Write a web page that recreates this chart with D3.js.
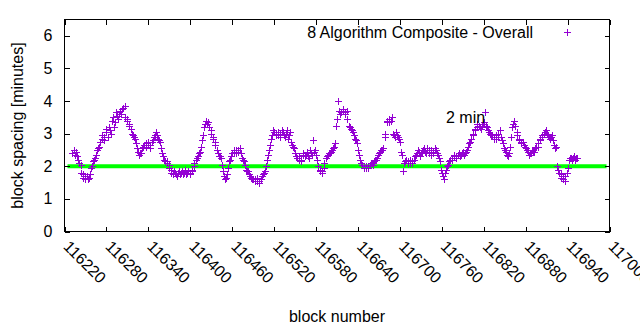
<!DOCTYPE html>
<html>
<head>
<meta charset="utf-8">
<script src="https://cdn.jsdelivr.net/npm/d3@7"></script>
<style>
  body { margin: 0; background: #fff; }
  text { font-family: "Liberation Sans", Arial, sans-serif; font-size: 16px; fill: #000; }
</style>
</head>
<body>
<div id="chart"></div>
<script>
// block numbers and the spacing (minutes)
const blocks = [
  116231, 116233, 116235, 116237, 116240, 116243, 116246, 116249, 116252, 116255, 116258, 116261,
  116264, 116267, 116270, 116273, 116276, 116279, 116282, 116285, 116288, 116291, 116294, 116297,
  116300, 116303, 116306, 116309, 116312, 116315, 116318, 116321, 116324, 116327, 116330, 116333,
  116336, 116339, 116342, 116345, 116348, 116351, 116354, 116357, 116360, 116363, 116366, 116369,
  116372, 116375, 116378, 116381, 116384, 116387, 116390, 116393, 116396, 116399, 116402, 116405,
  116408, 116411, 116414, 116417, 116420, 116423, 116426, 116429, 116432, 116435, 116438, 116441,
  116444, 116447, 116450, 116453, 116456, 116459, 116462, 116465, 116468, 116471, 116474, 116477,
  116480, 116483, 116486, 116489, 116492, 116495, 116498, 116501, 116504, 116507, 116510, 116513,
  116516, 116519, 116522, 116525, 116528, 116531, 116534, 116537, 116540, 116543, 116546, 116549,
  116552, 116555, 116558, 116561, 116564, 116567, 116570, 116573, 116576, 116579, 116582, 116585,
  116588, 116591, 116594, 116597, 116600, 116603, 116606, 116609, 116612, 116615, 116618, 116621,
  116624, 116627, 116630, 116633, 116636, 116639, 116642, 116645, 116648, 116651, 116654, 116657,
  116660, 116663, 116666, 116669, 116672, 116675, 116678, 116681, 116684, 116687, 116690, 116693,
  116696, 116699, 116702, 116705, 116708, 116711, 116714, 116717, 116720, 116723, 116726, 116729,
  116732, 116735, 116738, 116741, 116744, 116747, 116750, 116753, 116756, 116759, 116762, 116765,
  116768, 116771, 116774, 116777, 116780, 116783, 116786, 116789, 116792, 116795, 116798, 116801,
  116804, 116807, 116810, 116813, 116816, 116819, 116822, 116825, 116828, 116831, 116834, 116837,
  116840, 116843, 116846, 116849, 116852, 116855, 116858, 116861, 116864, 116867, 116870, 116873,
  116876, 116879, 116882, 116885, 116888, 116891, 116894, 116897, 116900, 116903, 116906, 116909,
  116912, 116915, 116918, 116921, 116924, 116927, 116930, 116933, 116936, 116939, 116942, 116945,
  116948, 116951, 116954
];
const spacing = [
  2.4, 2.5, 2.35, 2.45, 2.2, 2.05, 1.75, 1.6, 1.7, 1.65, 1.95, 2.15,
  2.25, 2.5, 2.6, 2.85, 2.8, 3.15, 2.9, 3.1, 3.4, 3.2, 3.65, 3.45,
  3.7, 3.75, 3.85, 3.45, 3.25, 3.15, 2.95, 2.85, 2.55, 2.35, 2.4, 2.6,
  2.7, 2.65, 2.55, 2.75, 2.9, 3.05, 2.85, 2.75, 2.4, 2.2, 2.15, 2.05,
  1.9, 1.75, 1.8, 1.7, 1.85, 1.8, 1.75, 1.9, 1.8, 1.75, 1.85, 2.0,
  2.2, 2.3, 2.45, 2.8, 3.2, 3.4, 3.35, 3.1, 2.9, 2.75, 2.5, 2.3,
  2.25, 1.85, 1.6, 1.75, 2.15, 2.3, 2.45, 2.5, 2.45, 2.55, 2.25, 2.15,
  1.9, 1.85, 1.7, 1.6, 1.55, 1.65, 1.5, 1.6, 1.75, 1.85, 2.2, 2.5,
  2.85, 3.1, 2.95, 3.05, 2.9, 3.1, 2.95, 3.0, 2.85, 3.05, 2.65, 2.55,
  2.3, 2.2, 2.15, 2.35, 2.3, 2.45, 2.25, 2.4, 2.8, 2.5, 2.2, 1.85,
  1.8, 1.95, 2.25, 2.35, 2.4, 2.5, 2.6, 3.25, 4.0, 3.6, 3.7, 3.65,
  3.7, 3.25, 3.15, 3.05, 2.85, 2.7, 2.35, 2.1, 2.0, 1.95, 2.0, 2.05,
  2.1, 2.15, 2.2, 2.35, 2.45, 2.5, 2.9, 3.35, 3.45, 3.4, 3.0, 2.9,
  2.95, 2.85, 2.45, 1.85, 2.15, 2.1, 2.1, 2.15, 2.2, 2.35, 2.5, 2.3,
  2.45, 2.55, 2.4, 2.5, 2.35, 2.45, 2.55, 2.4, 2.25, 1.9, 1.7, 1.8,
  2.0, 2.15, 2.2, 2.3, 2.25, 2.35, 2.3, 2.4, 2.35, 2.45, 2.6, 2.75,
  2.95, 3.1, 3.2, 3.25, 3.15, 3.3, 3.65, 3.2, 3.05, 2.95, 2.9, 2.85,
  2.9, 3.1, 2.8, 2.55, 2.45, 2.3, 2.6, 3.2, 3.4, 3.05, 2.85, 2.7,
  2.75, 2.6, 2.5, 2.35, 2.4, 2.45, 2.55, 2.6, 2.8, 2.9, 3.0, 3.1,
  2.95, 2.85, 2.95, 2.65, 2.6, 1.9, 1.75, 1.7, 1.55, 1.8, 2.2, 2.25,
  2.25, 2.2, 2.25
];
// further points of the same series, read from the denser clusters
const extra_blocks = [
  116238, 116241, 116244, 116247, 116250, 116253, 116256, 116259, 116262, 116265, 116268, 116271,
  116274, 116277, 116280, 116283, 116286, 116289, 116292, 116295, 116298, 116301, 116304, 116307,
  116310, 116313, 116316, 116319, 116322, 116325, 116328, 116331, 116334, 116337, 116340, 116343,
  116346, 116349, 116352, 116355, 116358, 116361, 116364, 116367, 116370, 116373, 116376, 116379,
  116382, 116385, 116388, 116391, 116394, 116397, 116400, 116403, 116406, 116409, 116412, 116415,
  116418, 116421, 116424, 116427, 116430, 116433, 116436, 116439, 116442, 116445, 116448, 116451,
  116454, 116457, 116460, 116463, 116466, 116469, 116472, 116475, 116478, 116481, 116484, 116487,
  116490, 116493, 116496, 116499, 116502, 116505, 116508, 116511, 116514, 116517, 116520, 116523,
  116526, 116529, 116532, 116535, 116538, 116541, 116544, 116547, 116550, 116553, 116556, 116559,
  116562, 116565, 116568, 116571, 116574, 116577, 116580, 116583, 116586, 116589, 116592, 116595,
  116598, 116601, 116604, 116607, 116610, 116613, 116616, 116619, 116622, 116625, 116628, 116631,
  116634, 116637, 116640, 116643, 116646, 116649, 116652, 116655, 116658, 116661, 116664, 116667,
  116670, 116673, 116676, 116679, 116682, 116685, 116688, 116691, 116694, 116697, 116700, 116703,
  116706, 116709, 116712, 116715, 116718, 116721, 116724, 116727, 116730, 116733, 116736, 116739,
  116742, 116745, 116748, 116751, 116754, 116757, 116760, 116763, 116766, 116769, 116772, 116775,
  116778, 116781, 116784, 116787, 116790, 116793, 116796, 116799, 116802, 116805, 116808, 116811,
  116814, 116817, 116820, 116823, 116826, 116829, 116832, 116835, 116838, 116841, 116844, 116847,
  116850, 116853, 116856, 116859, 116862, 116865, 116868, 116871, 116874, 116877, 116880, 116883,
  116886, 116889, 116892, 116895, 116898, 116901, 116904, 116907, 116910, 116913, 116916, 116919,
  116922, 116925, 116928, 116931, 116934, 116937, 116940, 116943, 116946, 116949, 116952
];
const extra_spacing = [
  2.3, 2.1, 1.8, 1.65, 1.7, 1.6, 1.75, 2.0, 2.2, 2.35, 2.55, 2.75,
  2.95, 2.9, 3.05, 3.2, 3.0, 3.5, 3.35, 3.55, 3.6, 3.6, 3.8, 3.5,
  3.4, 3.3, 3.0, 2.9, 2.7, 2.45, 2.4, 2.55, 2.65, 2.6, 2.75, 2.65,
  2.8, 2.95, 2.95, 2.8, 2.55, 2.3, 2.15, 2.1, 1.95, 1.8, 1.85, 1.75,
  1.8, 1.75, 1.85, 1.8, 1.75, 1.85, 1.8, 1.9, 2.1, 2.25, 2.4, 2.6,
  2.95, 3.3, 3.3, 3.2, 3.0, 2.85, 2.65, 2.4, 2.3, 2.05, 1.7, 1.65,
  1.95, 2.2, 2.4, 2.5, 2.4, 2.5, 2.4, 2.2, 2.05, 1.85, 1.75, 1.65,
  1.6, 1.6, 1.55, 1.55, 1.7, 1.8, 2.0, 2.35, 2.65, 2.95, 3.05, 3.0,
  2.95, 3.0, 3.05, 2.9, 3.1, 2.95, 2.75, 2.6, 2.4, 2.25, 2.3, 2.2,
  2.4, 2.35, 2.3, 2.5, 2.35, 2.45, 2.35, 2.0, 1.9, 1.85, 2.1, 2.3,
  2.4, 2.45, 2.55, 2.7, 3.45, 3.7, 3.65, 3.75, 3.6, 3.45, 3.2, 3.1,
  2.95, 2.8, 2.5, 2.2, 2.05, 1.95, 2.0, 1.95, 2.1, 2.05, 2.2, 2.25,
  2.4, 2.5, 2.55, 3.0, 3.4, 3.35, 3.5, 2.95, 3.05, 2.9, 2.75, 2.35,
  2.1, 2.2, 2.15, 2.2, 2.1, 2.3, 2.4, 2.45, 2.4, 2.5, 2.45, 2.55,
  2.4, 2.5, 2.4, 2.5, 2.35, 2.15, 1.8, 1.6, 1.9, 2.05, 2.2, 2.25,
  2.35, 2.3, 2.4, 2.35, 2.45, 2.4, 2.5, 2.7, 2.85, 3.0, 3.15, 3.3,
  3.2, 3.25, 3.35, 3.25, 3.1, 3.0, 2.95, 2.85, 2.95, 3.0, 2.9, 2.7,
  2.5, 2.35, 2.4, 2.9, 3.3, 3.25, 2.95, 2.8, 2.75, 2.65, 2.55, 2.45,
  2.4, 2.5, 2.45, 2.6, 2.7, 2.85, 2.95, 3.05, 3.0, 2.9, 2.9, 2.8,
  2.55, 2.0, 1.8, 1.65, 1.6, 1.7, 1.95, 2.25, 2.2, 2.3, 2.25
];
const x_ticks = [116220, 116280, 116340, 116400, 116460, 116520, 116580, 116640,
  116700, 116760, 116820, 116880, 116940, 117000];
const y_ticks = [0, 1, 2, 3, 4, 5, 6];
const target_minutes = 2;
const series_name = "8 Algorithm Composite - Overall";
const target_label = { text: "2 min", block: 116766, value: 3.5 };

const width = 640, height = 330;
const plot = { left: 64.5, right: 609.5, top: 19.5, bottom: 231.5 };
const point_color = "#9400d3";
const line_color = "#00ff00";
const tic_len = 5;
const cross = 3.5;

const svg = d3.select("#chart").append("svg")
  .attr("width", width)
  .attr("height", height);

svg.append("rect").attr("width", width).attr("height", height).attr("fill", "#fff");

const X = d3.scaleLinear().domain([116220, 117000]).range([plot.left, plot.right]);
const Y = d3.scaleLinear().domain([0, 6.5]).range([plot.bottom, plot.top]);

const points = blocks.map((b, i) => ({ b, v: spacing[i] }))
  .concat(extra_blocks.map((b, i) => ({ b, v: extra_spacing[i] })));

// 2 minute target line
svg.append("line")
  .attr("x1", plot.left + 3)
  .attr("x2", plot.right - 3)
  .attr("y1", Y(target_minutes))
  .attr("y2", Y(target_minutes))
  .attr("stroke", line_color)
  .attr("stroke-width", 4);

// crosses
const plus_path = (cx, cy) =>
  `M${cx - cross},${cy}H${cx + cross}M${cx},${cy - cross}V${cy + cross}`;

svg.append("path")
  .attr("d", points.map((d) => plus_path(Math.round(X(d.b)) + 0.5, Math.round(Y(d.v)) + 0.5)).join(""))
  .attr("fill", "none")
  .attr("stroke", point_color)
  .attr("stroke-width", 1);

// border with mirrored tics
const frame = svg.append("g").attr("shape-rendering", "crispEdges");

frame.append("rect")
  .attr("x", plot.left)
  .attr("y", plot.top)
  .attr("width", plot.right - plot.left)
  .attr("height", plot.bottom - plot.top)
  .attr("fill", "none")
  .attr("stroke", "#000");

x_ticks.forEach((t) => {
  const x = Math.round(X(t)) + 0.5;
  frame.append("line").attr("x1", x).attr("x2", x)
    .attr("y1", plot.bottom).attr("y2", plot.bottom - tic_len).attr("stroke", "#000");
  frame.append("line").attr("x1", x).attr("x2", x)
    .attr("y1", plot.top).attr("y2", plot.top + tic_len).attr("stroke", "#000");
});
y_ticks.forEach((t) => {
  const y = Math.round(Y(t)) + 0.5;
  frame.append("line").attr("x1", plot.left).attr("x2", plot.left + tic_len)
    .attr("y1", y).attr("y2", y).attr("stroke", "#000");
  frame.append("line").attr("x1", plot.right).attr("x2", plot.right - tic_len)
    .attr("y1", y).attr("y2", y).attr("stroke", "#000");
});

// tic labels
svg.selectAll("text.ylab")
  .data(y_ticks)
  .enter()
  .append("text")
  .attr("x", plot.left - 12)
  .attr("y", (d) => Y(d))
  .attr("text-anchor", "end")
  .attr("dominant-baseline", "central")
  .text((d) => d);

svg.selectAll("text.xlab")
  .data(x_ticks)
  .enter()
  .append("text")
  .attr("transform", (d) => `translate(${X(d) - 2}, ${plot.bottom + 16}) rotate(45)`)
  .attr("text-anchor", "start")
  .text((d) => d);

// axis titles
svg.append("text")
  .attr("transform", `translate(17, ${(plot.top + plot.bottom) / 2}) rotate(-90)`)
  .attr("text-anchor", "middle")
  .attr("dominant-baseline", "central")
  .text("block spacing [minutes]");

svg.append("text")
  .attr("x", (plot.left + plot.right) / 2)
  .attr("y", 322)
  .attr("text-anchor", "middle")
  .text("block number");

// legend
svg.append("text")
  .attr("x", 533)
  .attr("y", 32)
  .attr("text-anchor", "end")
  .attr("dominant-baseline", "central")
  .text(series_name);

svg.append("path")
  .attr("d", plus_path(567.5, 32.5))
  .attr("fill", "none")
  .attr("stroke", point_color);

// 2 min label
svg.append("text")
  .attr("x", X(target_label.block))
  .attr("y", Y(target_label.value))
  .attr("dominant-baseline", "central")
  .text(target_label.text);
</script>
</body>
</html>
